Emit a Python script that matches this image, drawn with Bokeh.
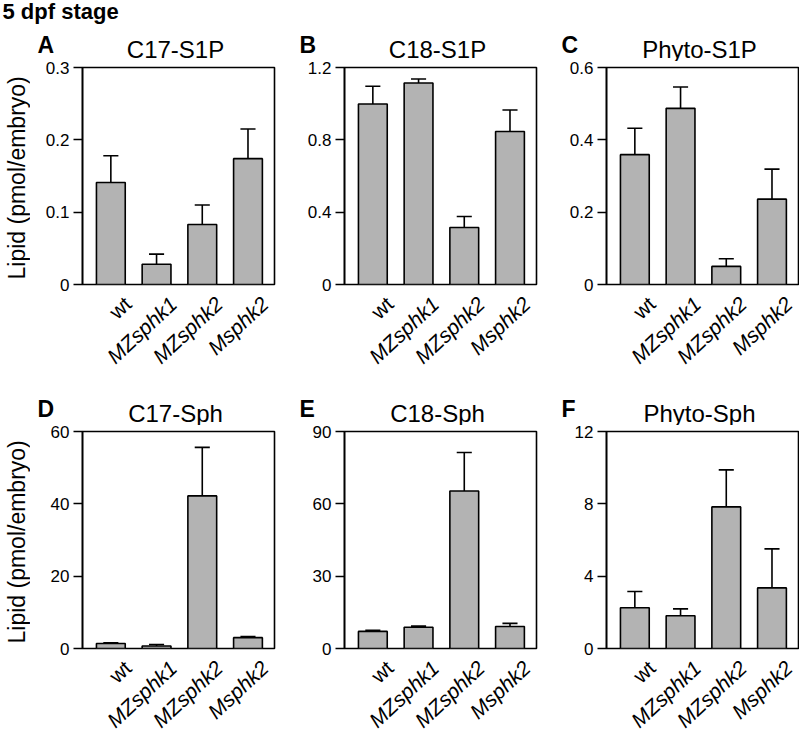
import math
from bokeh.plotting import figure
from bokeh.layouts import column, row
from bokeh.models import Range1d, FixedTicker, ColumnDataSource
from bokeh.core.properties import value
from bokeh.embed import file_html
from bokeh.resources import INLINE

# ---------------- data ----------------
header = "5 dpf stage"
y_label = "Lipid (pmol/embryo)"
categories = ["wt", "MZsphk1", "MZsphk2", "Msphk2"]
positions = [1, 2, 3, 4]

letters = ["A", "B", "C", "D", "E", "F"]
titles = ["C17-S1P", "C18-S1P", "Phyto-S1P", "C17-Sph", "C18-Sph", "Phyto-Sph"]

c17_s1p_mean = [0.141, 0.028, 0.083, 0.174]
c17_s1p_sem = [0.037, 0.014, 0.027, 0.041]
c17_s1p_ticks = [0, 0.1, 0.2, 0.3]

c18_s1p_mean = [0.998, 1.114, 0.315, 0.846]
c18_s1p_sem = [0.098, 0.022, 0.061, 0.119]
c18_s1p_ticks = [0, 0.4, 0.8, 1.2]

phyto_s1p_mean = [0.359, 0.487, 0.050, 0.236]
phyto_s1p_sem = [0.073, 0.059, 0.021, 0.083]
phyto_s1p_ticks = [0, 0.2, 0.4, 0.6]

c17_sph_mean = [1.4, 0.7, 42.2, 3.0]
c17_sph_sem = [0.2, 0.4, 13.4, 0.3]
c17_sph_ticks = [0, 20, 40, 60]

c18_sph_mean = [7.1, 8.8, 65.3, 9.1]
c18_sph_sem = [0.4, 0.5, 16.0, 1.3]
c18_sph_ticks = [0, 30, 60, 90]

phyto_sph_mean = [2.25, 1.81, 7.83, 3.35]
phyto_sph_sem = [0.90, 0.38, 2.05, 2.16]
phyto_sph_ticks = [0, 4, 8, 12]

means = [c17_s1p_mean, c18_s1p_mean, phyto_s1p_mean, c17_sph_mean, c18_sph_mean, phyto_sph_mean]
sems = [c17_s1p_sem, c18_s1p_sem, phyto_s1p_sem, c17_sph_sem, c18_sph_sem, phyto_sph_sem]
tick_sets = [c17_s1p_ticks, c18_s1p_ticks, phyto_s1p_ticks, c17_sph_ticks, c18_sph_ticks, phyto_sph_ticks]

# ---------------- style / layout ----------------
FONT = value("Liberation Sans")
X0, X1 = 0.38, 4.58
FW, FH = 192, 217
PXU = FW / (X1 - X0)
BAR_FILL = "#b3b3b3"
LW = 1.6
PAD_T = 6          # border above each plot frame (room for top tick label)
PAD_B = 10         # border below each plot frame (room for "0" tick label)
TXT_SHIFT = 6.5    # text glyphs sit this far below their nominal baseline

LEFT_STRIP = 30    # width of strip holding the y-axis title (column 1)
lefts = [82, 66, 66]     # frame left offset within each column
rights = [4, 4, 1]
top_h = [61, 54]         # height of title strips
bot_h = [77, 72]         # height of category-label strips


def blank(width, height, xr, yr):
    p = figure(width=width, height=height, x_range=xr, y_range=yr,
               x_axis_location=None, y_axis_location=None,
               output_backend="svg", toolbar_location=None, min_border=0)
    p.title = None
    p.grid.visible = False
    p.outline_line_color = None
    p.background_fill_color = "white"
    p.border_fill_color = "white"
    return p


def col_width(c):
    return lefts[c] + FW + rights[c]


def strip_xrange(c):
    return Range1d(X0 - lefts[c] / PXU, X1 + rights[c] / PXU)


def top_strip(idx):
    r, c = divmod(idx, 3)
    h = top_h[r]
    p = blank(col_width(c), h, strip_xrange(c), Range1d(0, h))
    # y in pixels above the strip bottom; the plot frame starts PAD_T below it
    p.text(x=[(X0 + X1) / 2 - 3 / PXU], y=[12 + TXT_SHIFT - PAD_T], text=[titles[idx]],
           text_align="center", text_baseline="alphabetic",
           text_font=FONT, text_font_size=value("24px"), text_color="black")
    p.text(x=[X0 - 45 / PXU], y=[16 + TXT_SHIFT - PAD_T], text=[letters[idx]],
           text_align="left", text_baseline="alphabetic",
           text_font=FONT, text_font_size=value("23px"), text_font_style="bold",
           text_color="black")
    if idx == 0:
        p.text(x=[X0 - (lefts[c] - 2) / PXU], y=[h - 17 + TXT_SHIFT], text=[header],
               text_align="left", text_baseline="alphabetic",
               text_font=FONT, text_font_size=value("22px"), text_font_style="bold",
               text_color="black")
    return p


def bottom_strip(idx):
    r, c = divmod(idx, 3)
    h = bot_h[r]
    p = blank(col_width(c), h, strip_xrange(c), Range1d(-h, 0))
    lx = [x + 17 / PXU for x in positions]
    ly = -(16 - PAD_B)
    up = ColumnDataSource(dict(x=lx[:1], y=[ly], text=categories[:1]))
    it = ColumnDataSource(dict(x=lx[1:], y=[ly] * 3, text=categories[1:]))
    for src, style in ((up, "normal"), (it, "italic")):
        p.text(x="x", y="y", text="text", source=src, angle=math.radians(43),
               text_align="right", text_baseline="middle",
               text_font=FONT, text_font_size=value("21px"), text_font_style=style,
               text_color="black")
    return p


def ylabel_strip(r):
    h = FH + PAD_T + PAD_B
    p = blank(LEFT_STRIP, h, Range1d(0, LEFT_STRIP), Range1d(0, h))
    p.text(x=[16], y=[PAD_B + FH / 2 - 4], text=[y_label], angle=math.pi / 2,
           text_align="center", text_baseline="middle",
           text_font=FONT, text_font_size=value("23px"), text_color="black")
    return p


def main_panel(idx):
    r, c = divmod(idx, 3)
    lb = lefts[c] - (LEFT_STRIP if c == 0 else 0)
    rb = rights[c]
    ticks = tick_sets[idx]
    ymax = ticks[-1]

    p = figure(width=lb + FW + rb, height=FH + PAD_T + PAD_B,
               x_range=Range1d(X0, X1), y_range=Range1d(0, ymax),
               x_axis_location=None,
               output_backend="svg", toolbar_location=None,
               min_border_left=lb, min_border_right=rb,
               min_border_top=PAD_T, min_border_bottom=PAD_B)
    p.title = None
    p.grid.visible = False
    p.outline_line_color = "black"
    p.outline_line_width = LW
    p.outline_line_alpha = 1.0
    p.background_fill_color = "white"
    p.border_fill_color = "white"

    ax = p.yaxis[0]
    ax.ticker = FixedTicker(ticks=ticks)
    ax.major_label_overrides = {0: "0"}
    ax.axis_line_width = LW
    ax.major_tick_line_width = LW
    ax.major_tick_out = 9
    ax.major_tick_in = 0
    ax.minor_tick_line_color = None
    ax.major_label_standoff = 4
    ax.major_label_text_font = "Liberation Sans"
    ax.major_label_text_font_size = "17px"
    ax.major_label_text_color = "black"

    mean = means[idx]
    sem = sems[idx]
    err = [m + s for m, s in zip(mean, sem)]
    src = ColumnDataSource(dict(
        x=positions, top=mean, err=err,
        x0=[x - 0.165 for x in positions], x1=[x + 0.165 for x in positions]))
    p.vbar(x="x", top="top", bottom=0, width=0.63, source=src,
           fill_color=BAR_FILL, line_color="black", line_width=LW)
    p.segment(x0="x", y0="top", x1="x", y1="err", source=src,
              line_color="black", line_width=LW)
    p.segment(x0="x0", y0="err", x1="x1", y1="err", source=src,
              line_color="black", line_width=LW)
    return p


rows = []
for r in range(2):
    ids = [3 * r + c for c in range(3)]
    rows.append(row(*[top_strip(i) for i in ids], spacing=0))
    rows.append(row(ylabel_strip(r), *[main_panel(i) for i in ids], spacing=0))
    rows.append(row(*[bottom_strip(i) for i in ids], spacing=0))

layout = column(*rows, spacing=0)

open("out.html", "w").write(file_html(layout, INLINE))
